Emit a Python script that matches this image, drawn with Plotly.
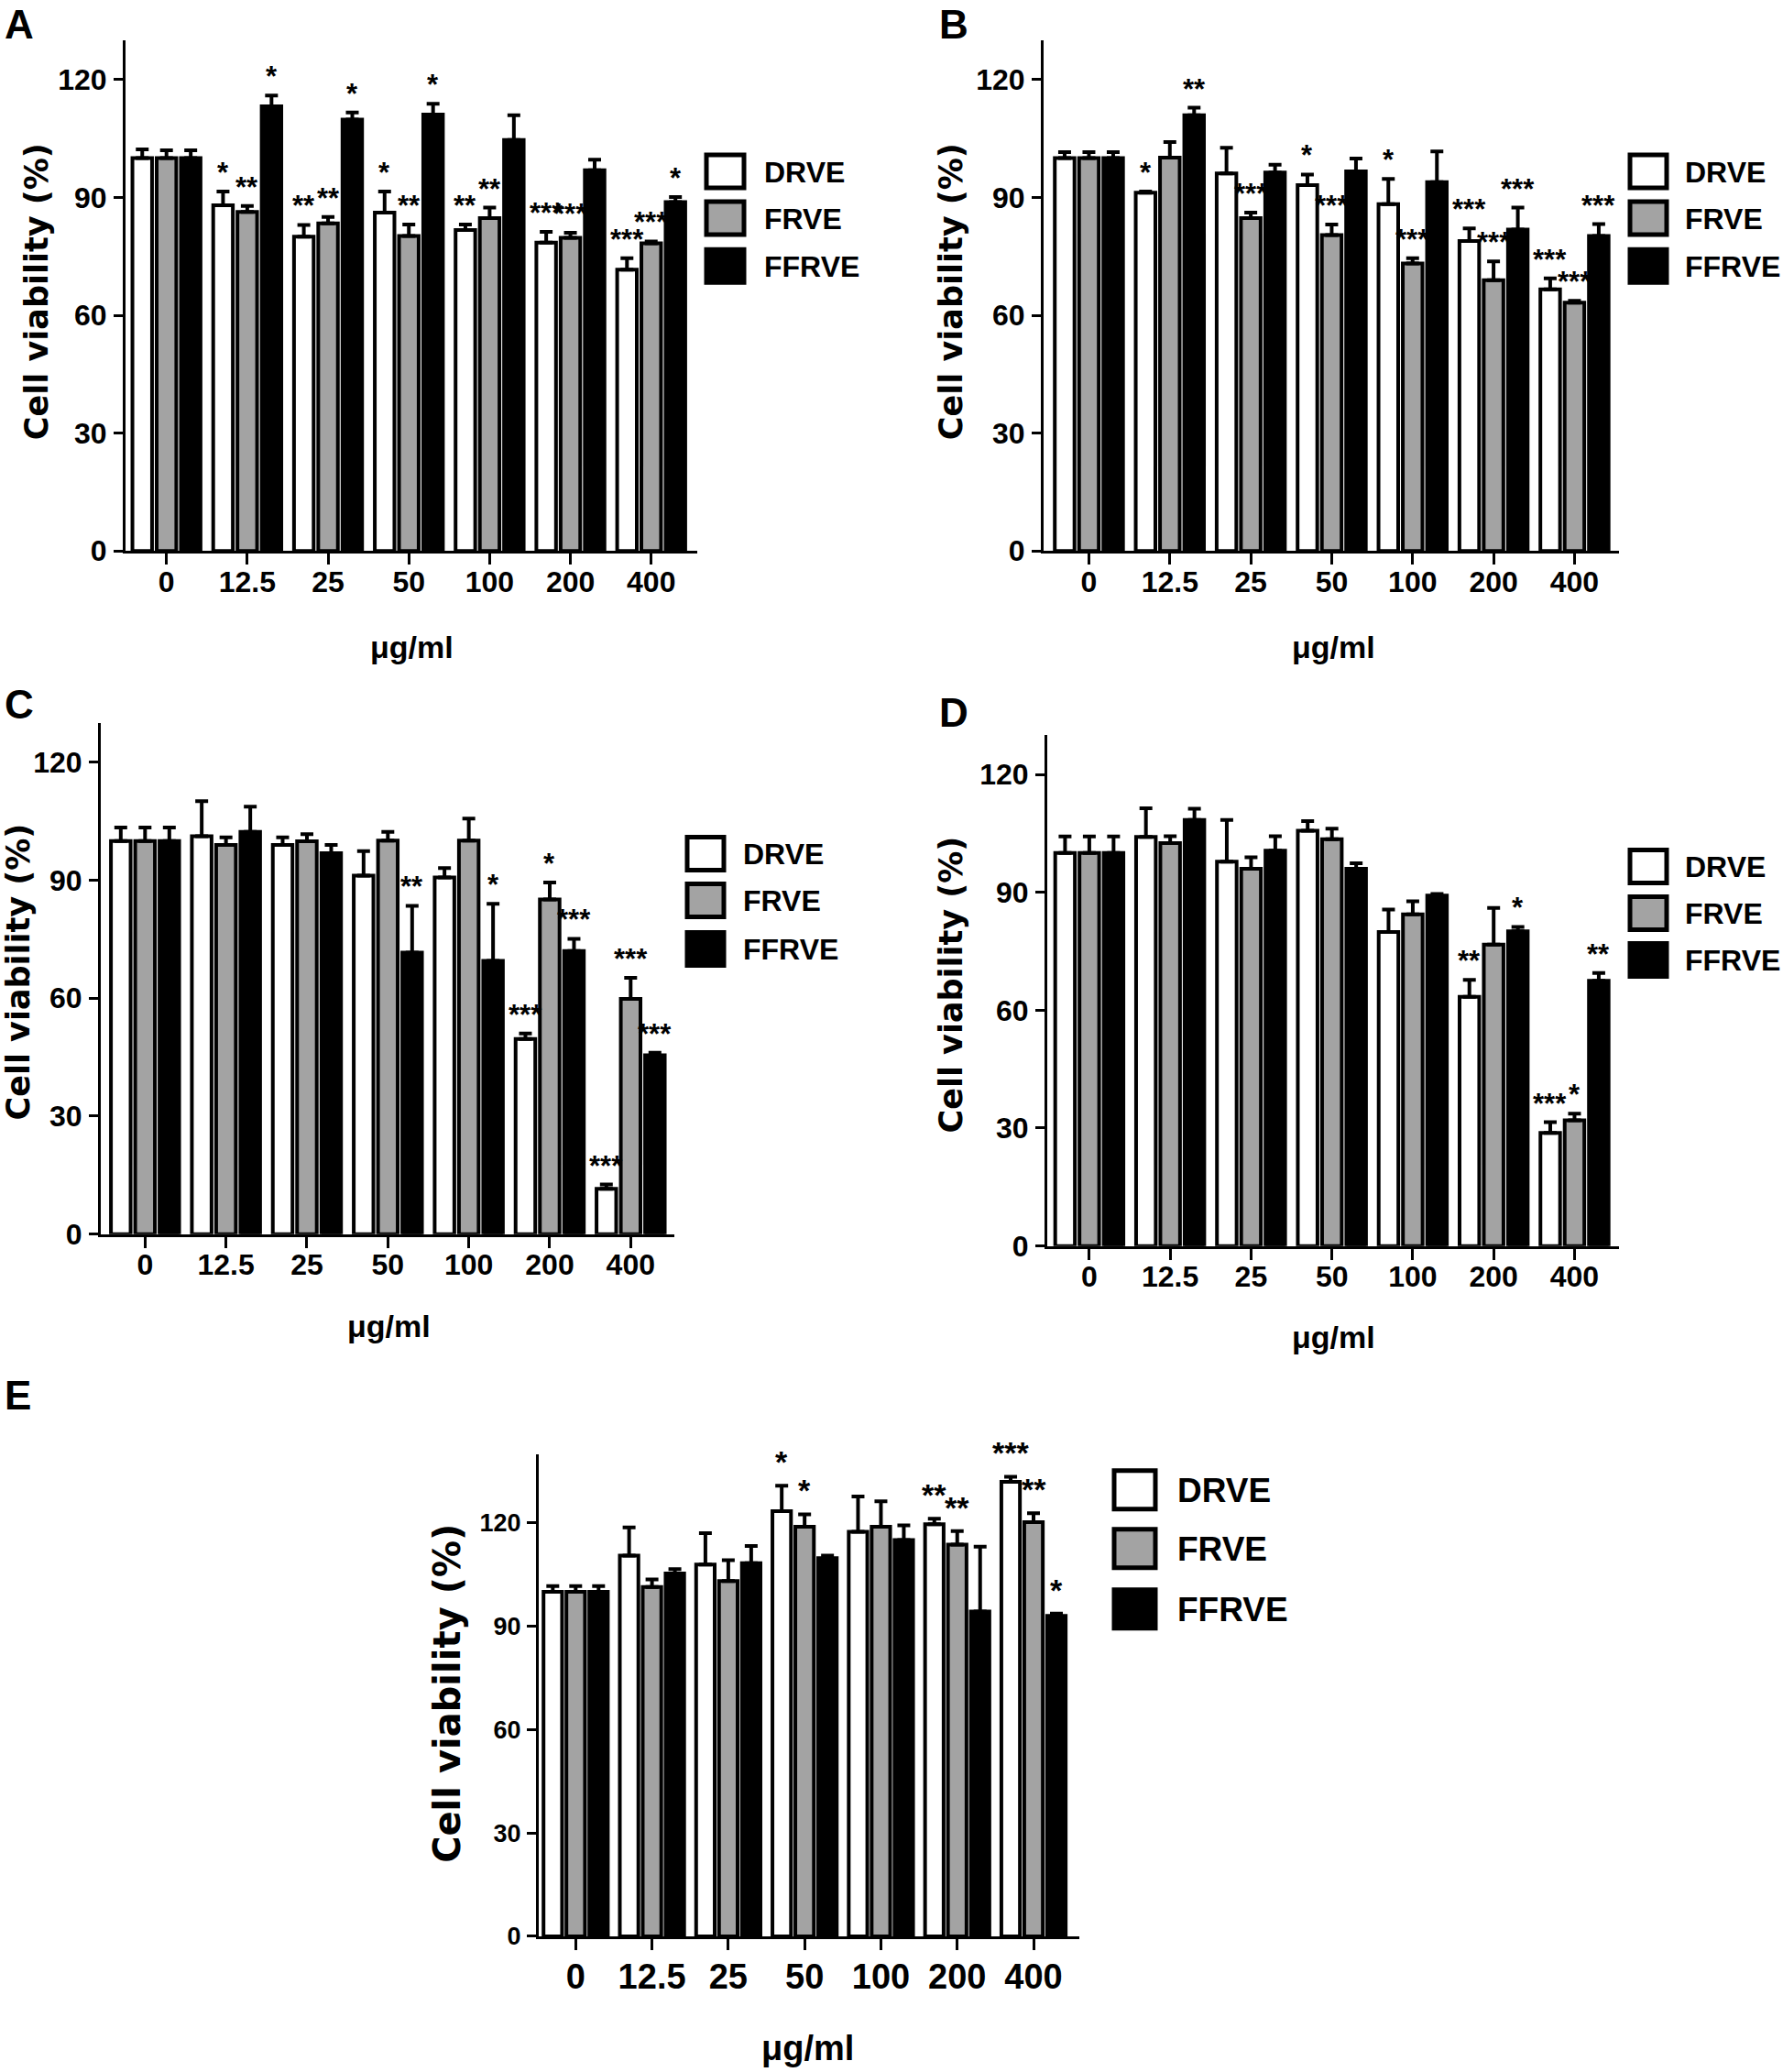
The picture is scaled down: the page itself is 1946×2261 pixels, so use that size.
import plotly.graph_objects as go

W, H = 1946, 2261

# ---------------- data ----------------
categories = ["0", "12.5", "25", "50", "100", "200", "400"]
series_names = ["DRVE", "FRVE", "FFRVE"]

# Panel A
DRVE_A = [100, 88.0, 80.0, 86.1, 81.7, 78.5, 71.6]
DRVE_A_err = [2.2, 3.5, 3.0, 5.4, 1.4, 2.7, 2.9]
FRVE_A = [100, 86.3, 83.4, 80.2, 84.7, 79.7, 78.3]
FRVE_A_err = [2.0, 1.5, 1.6, 2.9, 2.7, 1.3, 0.5]
FFRVE_A = [100, 113.2, 109.8, 111.1, 104.6, 96.9, 88.8]
FFRVE_A_err = [2.0, 2.7, 1.8, 2.7, 6.3, 2.7, 1.3]
DRVE_A_sig = ["", "*", "**", "*", "**", "***", "***"]
FRVE_A_sig = ["", "**", "**", "**", "**", "***", "***"]
FFRVE_A_sig = ["", "*", "*", "*", "", "", "*"]

# Panel B
DRVE_B = [100, 91.2, 96.1, 93.1, 88.3, 78.9, 66.6]
DRVE_B_err = [1.5, 0.3, 6.5, 2.7, 6.4, 3.2, 2.8]
FRVE_B = [100, 100.1, 84.7, 80.4, 73.2, 68.9, 63.2]
FRVE_B_err = [1.5, 4.0, 1.4, 2.7, 1.3, 4.8, 0.5]
FFRVE_B = [100, 110.9, 96.3, 96.6, 93.9, 81.8, 80.2]
FFRVE_B_err = [1.5, 1.9, 2.0, 3.3, 7.8, 5.6, 3.0]
DRVE_B_sig = ["", "*", "", "*", "*", "***", "***"]
FRVE_B_sig = ["", "", "***", "***", "***", "***", "***"]
FFRVE_B_sig = ["", "**", "", "", "", "***", "***"]

# Panel C
DRVE_C = [100, 101.2, 99.0, 91.2, 90.7, 49.6, 11.5]
DRVE_C_err = [3.4, 8.9, 1.9, 6.2, 2.4, 1.4, 1.1]
FRVE_C = [100, 99.0, 99.9, 100.1, 100.1, 85.1, 59.8]
FRVE_C_err = [3.4, 1.9, 1.8, 2.2, 5.6, 4.3, 5.4]
FFRVE_C = [100, 102.3, 96.9, 71.6, 69.5, 72.0, 45.5]
FFRVE_C_err = [3.4, 6.4, 2.1, 11.9, 14.5, 3.1, 0.6]
DRVE_C_sig = ["", "", "", "", "", "***", "***"]
FRVE_C_sig = ["", "", "", "", "", "*", "***"]
FFRVE_C_sig = ["", "", "", "**", "*", "***", "***"]

# Panel D
DRVE_D = [100, 104.1, 97.8, 105.7, 79.9, 63.4, 28.8]
DRVE_D_err = [4.2, 7.3, 10.6, 2.4, 5.7, 4.3, 2.7]
FRVE_D = [100, 102.5, 96.0, 103.5, 84.4, 76.7, 32.0]
FRVE_D_err = [4.2, 1.8, 2.9, 2.7, 3.3, 9.3, 1.7]
FFRVE_D = [100, 108.4, 100.6, 96.0, 89.2, 80.1, 67.5]
FFRVE_D_err = [4.2, 2.9, 3.7, 1.4, 0.4, 1.1, 2.0]
DRVE_D_sig = ["", "", "", "", "", "**", "***"]
FRVE_D_sig = ["", "", "", "", "", "", "*"]
FFRVE_D_sig = ["", "", "", "", "", "*", "**"]

# Panel E
DRVE_E = [100, 110.5, 107.9, 123.4, 117.4, 119.6, 131.9]
DRVE_E_err = [1.7, 8.2, 9.1, 7.4, 10.3, 1.6, 1.5]
FRVE_E = [100, 101.4, 103.1, 118.9, 118.9, 113.7, 120.2]
FRVE_E_err = [1.7, 2.2, 6.1, 3.6, 7.4, 3.9, 2.6]
FFRVE_E = [100, 105.3, 108.3, 109.8, 115.0, 94.3, 93.0]
FFRVE_E_err = [1.7, 1.3, 5.0, 0.7, 4.3, 18.8, 0.7]
DRVE_E_sig = ["", "", "", "*", "", "**", "***"]
FRVE_E_sig = ["", "", "", "*", "", "**", "**"]
FFRVE_E_sig = ["", "", "", "", "", "", "*"]

y_ticks = [0, 30, 60, 90, 120]
y_title = "Cell viability (%)"
x_title = "\u03bcg/ml"

# ---------------- styling / layout geometry (pixels) ----------------
SANS = "Liberation Sans, Arial, sans-serif"
WIDE = "DejaVu Sans, Verdana, sans-serif"
fills = ["#ffffff", "#a3a3a3", "#000000"]
BARGAP = 0.10
KY = 1.0085  # vertical calibration of pixel positions

panels = [
    dict(key="A", data=(DRVE_A, FRVE_A, FFRVE_A), err=(DRVE_A_err, FRVE_A_err, FFRVE_A_err),
         sig=(DRVE_A_sig, FRVE_A_sig, FFRVE_A_sig),
         left=137, right=761, y0=601, unit=4.286, ymax=130, xr=(-0.507, 6.57),
         letter=(3, 0), ytitle=(40, 318), xtitle=(449, 706),
         leg_box=(771, 812), leg_rows=(187, 238, 290), leg_h=36, leg_text=832, leg_fs=32,
         ytick_fs=32, xtick_fs=32, star_fs=31, star_dy=1, title_fs=35, xt_fs=34, xstand=-9),
    dict(key="B", data=(DRVE_B, FRVE_B, FFRVE_B), err=(DRVE_B_err, FRVE_B_err, FFRVE_B_err),
         sig=(DRVE_B_sig, FRVE_B_sig, FFRVE_B_sig),
         left=1139, right=1767, y0=601, unit=4.286, ymax=130, xr=(-0.56, 6.55),
         letter=(1023, 0), ytitle=(1038, 318), xtitle=(1455, 706),
         leg_box=(1779, 1819), leg_rows=(187, 238, 290), leg_h=36, leg_text=1837, leg_fs=32,
         ytick_fs=32, xtick_fs=32, star_fs=31, star_dy=1, title_fs=35, xt_fs=34, xstand=-9),
    dict(key="C", data=(DRVE_C, FRVE_C, FFRVE_C), err=(DRVE_C_err, FRVE_C_err, FFRVE_C_err),
         sig=(DRVE_C_sig, FRVE_C_sig, FFRVE_C_sig),
         left=110, right=736, y0=1346, unit=4.288, ymax=130, xr=(-0.547, 6.54),
         letter=(3, 742), ytitle=(20, 1060), xtitle=(424, 1446),
         leg_box=(750, 790), leg_rows=(931, 982, 1035), leg_h=36, leg_text=809, leg_fs=32,
         ytick_fs=32, xtick_fs=32, star_fs=31, star_dy=1, title_fs=35, xt_fs=34, xstand=-9),
    dict(key="D", data=(DRVE_D, FRVE_D, FFRVE_D), err=(DRVE_D_err, FRVE_D_err, FFRVE_D_err),
         sig=(DRVE_D_sig, FRVE_D_sig, FFRVE_D_sig),
         left=1143, right=1767, y0=1359, unit=4.286, ymax=130, xr=(-0.52, 6.55),
         letter=(1023, 751), ytitle=(1038, 1074), xtitle=(1455, 1458),
         leg_box=(1779, 1819), leg_rows=(945, 996, 1047), leg_h=36, leg_text=1837, leg_fs=32,
         ytick_fs=32, xtick_fs=32, star_fs=31, star_dy=1, title_fs=35, xt_fs=34, xstand=-9),
    dict(key="E", data=(DRVE_E, FRVE_E, FFRVE_E), err=(DRVE_E_err, FRVE_E_err, FFRVE_E_err),
         sig=(DRVE_E_sig, FRVE_E_sig, FFRVE_E_sig),
         left=588, right=1178, y0=2112, unit=3.758, ymax=140, xr=(-0.484, 6.6),
         letter=(3, 1495), ytitle=(488, 1847), xtitle=(881, 2234),
         leg_box=(1216, 1261), leg_rows=(1625, 1689, 1755), leg_h=42, leg_text=1283, leg_fs=37,
         ytick_fs=27, xtick_fs=38, star_fs=34, star_dy=5, title_fs=40, xt_fs=38, xstand=-4),
]


def px_x(p):
    return p / W


def px_y(p):
    return 1 - p * KY / H


fig = go.Figure()
layout = dict(width=W, height=H, margin=dict(l=0, r=0, t=0, b=0),
              paper_bgcolor="white", plot_bgcolor="white", showlegend=False,
              barmode="group", bargap=BARGAP, bargroupgap=0.19)
annotations = []
shapes = []
slot = (1 - BARGAP) / 3

for n, p in enumerate(panels, start=1):
    sfx = "" if n == 1 else str(n)
    xa, ya = "xaxis" + sfx, "yaxis" + sfx
    xr_, yr_ = "x" + sfx, "y" + sfx
    top = p["y0"] - p["ymax"] * p["unit"]
    layout[xa] = dict(domain=[px_x(p["left"]), px_x(p["right"])], anchor=yr_, type="category",
                      range=list(p["xr"]), showline=True, linewidth=3, linecolor="black",
                      ticks="outside", ticklen=12, tickwidth=3, tickcolor="black",
                      showgrid=False, zeroline=False, tickangle=0, ticklabelstandoff=p["xstand"],
                      tickfont=dict(family=SANS, size=p["xtick_fs"], color="black", weight="bold"))
    layout[ya] = dict(domain=[px_y(p["y0"]), px_y(top)], anchor=xr_, range=[0, p["ymax"]],
                      tickvals=y_ticks, showline=True, linewidth=3, linecolor="black",
                      ticks="outside", ticklen=10, tickwidth=3, tickcolor="black",
                      showgrid=False, zeroline=False, ticklabelstandoff=1,
                      tickfont=dict(family=SANS, size=p["ytick_fs"], color="black", weight="bold"))
    for k in range(3):
        vals, errs = p["data"][k], p["err"][k]
        fig.add_trace(go.Bar(
            x=categories, y=vals, name=series_names[k], xaxis=xr_, yaxis=yr_,
            marker=dict(color=fills[k], line=dict(color="black", width=4)),
            error_y=dict(type="data", symmetric=False, array=errs, arrayminus=[0] * len(errs),
                         color="black", thickness=4, width=7),
            offsetgroup=str(k)))
        for i, s in enumerate(p["sig"][k]):
            if s:
                annotations.append(dict(
                    x=i + (k - 1) * slot, y=vals[i] + errs[i], xref=xr_, yref=yr_,
                    text=s, showarrow=False, yanchor="bottom", xanchor="center", yshift=p["star_dy"],
                    font=dict(family=SANS, size=p["star_fs"], color="black", weight="bold")))
        # legend swatch
        rc = p["leg_rows"][k]
        h2 = p["leg_h"] / 2
        shapes.append(dict(type="rect", xref="paper", yref="paper",
                           x0=px_x(p["leg_box"][0]), x1=px_x(p["leg_box"][1]),
                           y0=px_y(rc + h2), y1=px_y(rc - h2),
                           fillcolor=fills[k], line=dict(color="black", width=5)))
        annotations.append(dict(x=px_x(p["leg_text"]), y=px_y(rc + 1), xref="paper", yref="paper",
                                text=series_names[k], showarrow=False, xanchor="left", yanchor="middle",
                                font=dict(family=SANS, size=p["leg_fs"], color="black", weight="bold")))
    # panel letter
    annotations.append(dict(x=px_x(p["letter"][0]), y=px_y(p["letter"][1]), xref="paper", yref="paper",
                            text=p["key"], showarrow=False, xanchor="left", yanchor="top",
                            font=dict(family=SANS, size=44, color="black", weight="bold")))
    # y title
    annotations.append(dict(x=px_x(p["ytitle"][0]), y=px_y(p["ytitle"][1]), xref="paper", yref="paper",
                            text=y_title, showarrow=False, textangle=-90,
                            xanchor="center", yanchor="middle",
                            font=dict(family=WIDE, size=p["title_fs"], color="black", weight="bold")))
    # x title
    annotations.append(dict(x=px_x(p["xtitle"][0]), y=px_y(p["xtitle"][1]), xref="paper", yref="paper",
                            text=x_title, showarrow=False, xanchor="center", yanchor="middle",
                            font=dict(family=SANS, size=p["xt_fs"], color="black", weight="bold")))

layout["annotations"] = annotations
layout["shapes"] = shapes
fig.update_layout(**layout)
fig.write_html(
    "out.html",
    config={"displayModeBar": False},
    post_script=("document.body.style.margin='0';"
                 "var d=document.getElementById('{plot_id}');"
                 "d.style.position='fixed';d.style.top='0px';d.style.left='0px';"),
)
